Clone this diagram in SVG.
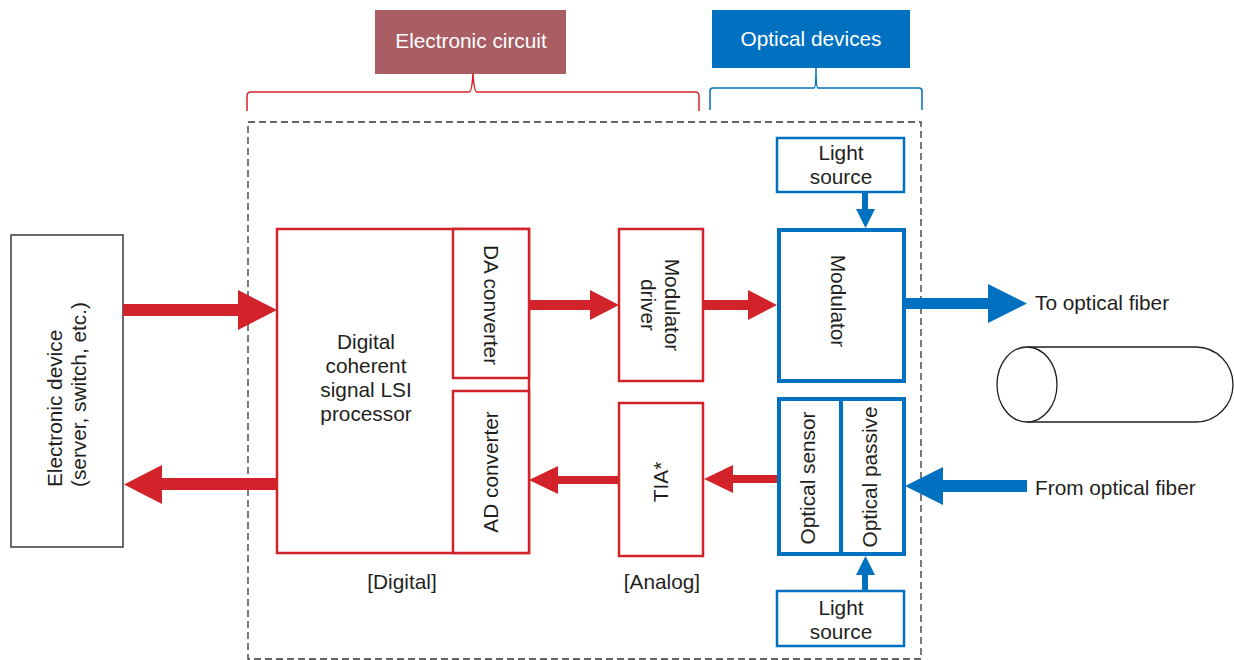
<svg xmlns="http://www.w3.org/2000/svg" width="1234" height="660" viewBox="0 0 1234 660">
<style>
text{font-family:"Liberation Sans",Arial,sans-serif;font-size:20.8px;fill:#231f20}
.w{fill:#ffffff}
.c{text-anchor:middle}
.rb{fill:#ffffff;stroke:#d2232a;stroke-width:2.5}
.bb{fill:#ffffff;stroke:#0070c0;stroke-width:2.5}
.bt{fill:#ffffff;stroke:#0070c0;stroke-width:4}
.red{fill:#d2232a}
.blue{fill:#0070c0}
</style>
<rect width="1234" height="660" fill="#ffffff"/>
<g id="label-electronic">
<rect x="375" y="10" width="191" height="64" fill="#a85e63"/>
<text class="w c" x="471" y="48">Electronic circuit</text>
<path d="M247,111 V96 Q247,92 251,92 H469 Q472,92 473,73 Q474,92 477,92 H695 Q699,92 699,96 V111" fill="none" stroke="#d2232a" stroke-width="1.5"/>
</g>
<g id="label-optical">
<rect x="712" y="10" width="198" height="58" fill="#0070c0"/>
<text class="w c" x="811" y="46">Optical devices</text>
<path d="M710,110 V91 Q710,88 713,88 H814 Q816,88 816,68 Q816,88 818,88 H919 Q922,88 922,91 V110" fill="none" stroke="#0070c0" stroke-width="1.5"/>
</g>
<rect id="boundary" x="248" y="122" width="673" height="537" fill="none" stroke="#333333" stroke-width="1.3" stroke-dasharray="7,4"/>
<g id="electronic-device">
<rect x="11" y="235" width="112" height="312" fill="#ffffff" stroke="#3a3a3a" stroke-width="1.5"/>
<text transform="translate(62,487) rotate(-90)">Electronic device</text>
<text transform="translate(86,487) rotate(-90)">(server, switch, etc.)</text>
</g>
<g id="processor">
<rect class="rb" x="277" y="229" width="252" height="324"/>
<text class="c" x="366" y="349">Digital</text>
<text class="c" x="366" y="373">coherent</text>
<text class="c" x="366" y="397">signal LSI</text>
<text class="c" x="366" y="421">processor</text>
<text class="c" x="402" y="589">[Digital]</text>
</g>
<g id="da-converter">
<rect class="rb" x="453" y="229" width="76" height="149"/>
<text class="c" transform="translate(484,305) rotate(90)">DA converter</text>
</g>
<g id="ad-converter">
<rect class="rb" x="453" y="391" width="76" height="162"/>
<text class="c" transform="translate(498,472) rotate(-90)">AD converter</text>
</g>
<g id="modulator-driver">
<rect class="rb" x="619" y="229" width="84" height="152"/>
<text class="c" transform="translate(665,305) rotate(90)">Modulator</text>
<text class="c" transform="translate(641,305) rotate(90)">driver</text>
</g>
<g id="tia">
<rect class="rb" x="619" y="403" width="84" height="153"/>
<text class="c" transform="translate(668,482) rotate(-90)">TIA*</text>
<text class="c" x="662" y="589">[Analog]</text>
</g>
<g id="light-source-top">
<rect class="bb" x="777" y="138" width="127" height="54"/>
<text class="c" x="841" y="160">Light</text>
<text class="c" x="841" y="184">source</text>
</g>
<g id="modulator">
<rect class="bt" x="779" y="230" width="125" height="151"/>
<text class="c" transform="translate(831,301) rotate(90)">Modulator</text>
</g>
<g id="optical-receiver">
<rect class="bt" x="779" y="399" width="125" height="155"/>
<line x1="841" y1="399" x2="841" y2="554" stroke="#0070c0" stroke-width="4"/>
<text class="c" transform="translate(815,478) rotate(-90)">Optical sensor</text>
<text class="c" transform="translate(877,477) rotate(-90)">Optical passive</text>
</g>
<g id="light-source-bottom">
<rect class="bb" x="777" y="591" width="127" height="55"/>
<text class="c" x="841" y="615">Light</text>
<text class="c" x="841" y="639">source</text>
</g>
<g id="fiber">
<path d="M1027,347 H1196 A37,37.5 0 0 1 1196,422 H1027" fill="#ffffff" stroke="#231f20" stroke-width="1.3"/>
<ellipse cx="1027" cy="384.5" rx="30" ry="37.5" fill="#ffffff" stroke="#231f20" stroke-width="1.3"/>
<text x="1035" y="310">To optical fiber</text>
<text x="1035" y="495">From optical fiber</text>
</g>
<g id="connectors">
<polygon class="red" points="123,304 238,304 238,290 277,310 238,330 238,316 123,316"/>
<polygon class="red" points="277,478 162,478 162,465 124,484.5 162,504 162,490 277,490"/>
<polygon class="red" points="529,300 590,300 590,290 619,305 590,320 590,310 529,310"/>
<polygon class="red" points="703,300 748,300 748,290 777,305 748,320 748,310 703,310"/>
<polygon class="red" points="777,475 733,475 733,465 704,479 733,493 733,483 777,483"/>
<polygon class="red" points="619,476 558,476 558,466 529,480 558,494 558,484 619,484"/>
<polygon class="blue" points="862,192 868,192 868,209 875,209 865.5,228 856,209 862,209"/>
<polygon class="blue" points="862,590 868,590 868,575 875,575 865.5,556 856,575 862,575"/>
<polygon class="blue" points="904,298 988,298 988,284 1027,303.5 988,323 988,309 904,309"/>
<polygon class="blue" points="1027,480 943,480 943,467 905,486 943,505 943,492 1027,492"/>
</g>
</svg>
